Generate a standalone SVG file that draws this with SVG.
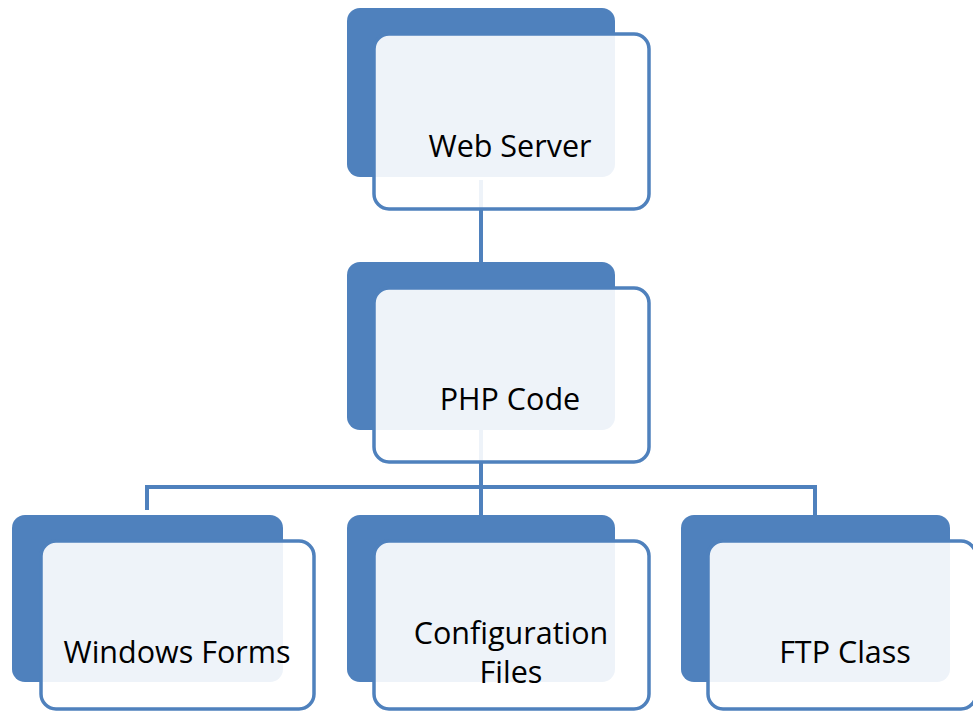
<svg xmlns="http://www.w3.org/2000/svg" width="973" height="713" viewBox="0 0 973 713">
<style>
.back{fill:#4f81bd;}
.front{fill:#ffffff;fill-opacity:0.9;stroke:#4f81bd;stroke-width:3.5;}
.conn{fill:none;stroke:#4f81bd;stroke-width:4;}
.lbl{font-family:"Open Sans","Noto Sans",sans-serif;font-size:30.5px;fill:#000000;text-anchor:middle;}
</style>
<rect width="973" height="713" fill="#ffffff"/>
<g id="connectors">
<path class="conn" d="M481,180 V265"/>
<path class="conn" d="M481,430 V487 M147,510 V487 H815 V515 M481,487 V515"/>
</g>
<g id="web-server">
<rect class="back" x="347" y="8" width="268" height="169" rx="13"/>
<rect class="front" x="374" y="34" width="275" height="175" rx="15"/>
<text class="lbl" x="510" y="157">Web Server</text>
</g>
<g id="php-code">
<rect class="back" x="347" y="262" width="268" height="168" rx="13"/>
<rect class="front" x="374" y="288" width="275" height="174" rx="15"/>
<text class="lbl" x="510" y="410">PHP Code</text>
</g>
<g id="windows-forms">
<rect class="back" x="12" y="515" width="271" height="167" rx="13"/>
<rect class="front" x="41" y="541" width="273" height="168" rx="15"/>
<text class="lbl" x="177" y="663">Windows Forms</text>
</g>
<g id="configuration-files">
<rect class="back" x="347" y="515" width="268" height="167" rx="13"/>
<rect class="front" x="374" y="541" width="275" height="168" rx="15"/>
<text class="lbl" x="511" y="644">Configuration</text>
<text class="lbl" x="511" y="683">Files</text>
</g>
<g id="ftp-class">
<rect class="back" x="681" y="515" width="269" height="167" rx="13"/>
<rect class="front" x="708" y="541" width="268" height="168" rx="15"/>
<text class="lbl" x="845" y="663">FTP Class</text>
</g>
</svg>
